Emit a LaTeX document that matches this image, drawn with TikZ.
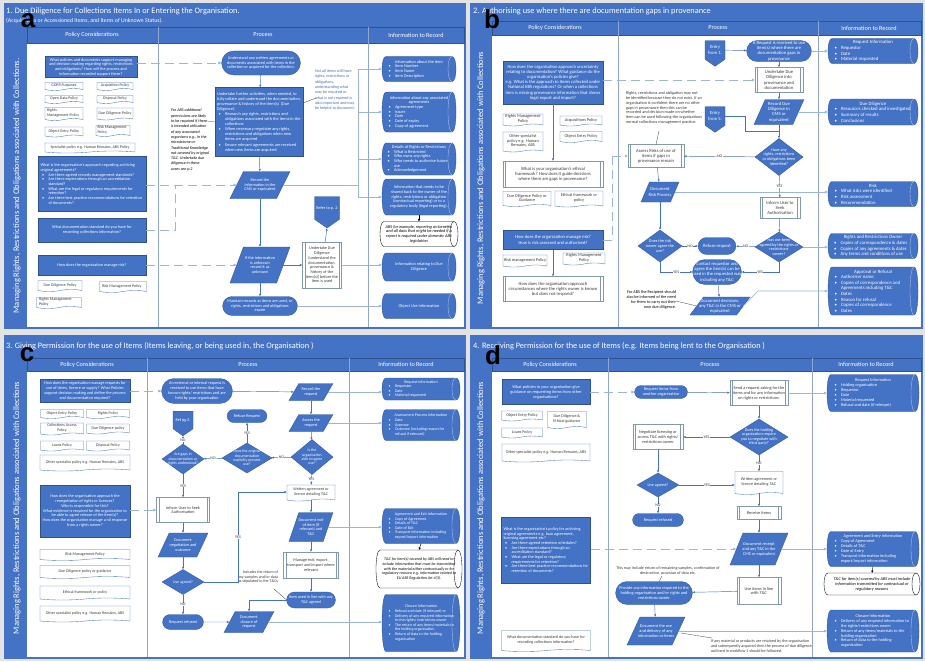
\documentclass[tikz,border=0pt]{standalone}
\usepackage{fontspec}
\setmainfont{Carlito}
\newfontfamily\arialf{Liberation Sans}
\usetikzlibrary{shapes.geometric,shapes.misc,shapes.symbols,arrows.meta}
\definecolor{blueM}{HTML}{4472C4}
\definecolor{blueD}{HTML}{2F528F}
\definecolor{blueL}{HTML}{9DB4DF}
\definecolor{blueLL}{HTML}{B4C7E7}
\definecolor{divc}{HTML}{8FA5D2}
\definecolor{pagebg}{HTML}{E3E3E3}
\definecolor{txtD}{HTML}{3A3A3A}
\definecolor{grayB}{HTML}{8497B0}
\definecolor{noteB}{HTML}{4A6FB5}
\newcommand\txc[2]{\hbox to 0pt{\hss\vbox to 0pt{\vss\hbox{\parbox{#1pt}{\centering #2}}\vss}\hss}}
\newcommand\txl[2]{\hbox to 0pt{\hss\vbox to 0pt{\vss\hbox{\parbox{#1pt}{\raggedright #2}}\vss}\hss}}
\newcommand\txr[2]{\hbox to 0pt{\hss\vbox to 0pt{\vss\hbox{\parbox{#1pt}{\raggedleft #2}}\vss}\hss}}
\newcommand\bpt{\par\hangindent=8pt\hangafter=1\noindent\hbox to 8pt{\hspace{1.5pt}\textbullet\hfil}\ignorespaces}
\newcommand\cyl[9]{%
 \path[fill=#1, draw=#2, line width=0.35pt] ({#5-#7/2+4},{#6-#8/2}) -- ({#5+#7/2-4},{#6-#8/2}) .. controls ({#5+#7/2+1.333},{#6-#8/2}) and ({#5+#7/2+1.333},{#6+#8/2}) .. ({#5+#7/2-4},{#6+#8/2}) -- ({#5-#7/2+4},{#6+#8/2}) .. controls ({#5-#7/2-1.333},{#6+#8/2}) and ({#5-#7/2-1.333},{#6-#8/2}) .. cycle;
 \draw[#3, line width=0.35pt] ({#5+#7/2-4},{#6-#8/2}) .. controls ({#5+#7/2-9.333},{#6-#8/2}) and ({#5+#7/2-9.333},{#6+#8/2}) .. ({#5+#7/2-4},{#6+#8/2});
 \node[kbase, kinf, minimum width=#7pt, minimum height=#8pt] (#4) at (#5,#6) {#9};}
\newcommand\infon[6]{\cyl{blueM}{blueD}{blueLL}{#1}{#2}{#3}{#4}{#5}{\color{white}#6}}
\newcommand\notecyl[6]{\cyl{white}{black}{black}{#1}{#2}{#3}{#4}{#5}{\color{black}\itshape #6}}
\tikzset{
 kbase/.style={inner sep=0.6pt, outer sep=0pt, font=\fontsize{4.2}{4.8}\selectfont},
 kinf/.style={},
 kpq/.style={kbase, rectangle, draw=blueD, fill=blueM, text=white, line width=0.3pt},
 kdoc/.style={kbase, tape, tape bend top=none, tape bend height=2pt, draw=blueM, fill=white, text=txtD, line width=0.35pt},
 kterm/.style={kbase, rounded rectangle, draw=blueD, fill=blueM, text=white, line width=0.3pt},
 kdata/.style={kbase, trapezium, trapezium left angle=68, trapezium right angle=112, trapezium stretches=true, draw=blueD, fill=blueM, text=white, line width=0.3pt},
 kdec/.style={kbase, diamond, draw=blueD, fill=blueM, text=white, line width=0.3pt},
 kpre/.style={kbase, rectangle, draw=grayB, fill=white, text=txtD, line width=0.35pt,
   path picture={\draw[grayB, line width=0.35pt] ([xshift=2.5pt]path picture bounding box.north west) -- ([xshift=2.5pt]path picture bounding box.south west) ([xshift=-2.5pt]path picture bounding box.north east) -- ([xshift=-2.5pt]path picture bounding box.south east);}},
 koff/.style={kbase, signal, signal to=south, signal pointer angle=110, draw=blueD, fill=blueM, text=white, line width=0.3pt},
 sz/.style 2 args={minimum width=#1pt, minimum height=#2pt},
 kar/.style={draw=blueM, line width=0.45pt, -{Latex[length=2.6pt,width=2.2pt]}},
 kir/.style={draw=blueL, line width=0.6pt, -{Latex[length=3.2pt,width=3.2pt]}},
 kln/.style={draw=blueL, line width=0.6pt},
 kdsh/.style={draw=blueL, line width=0.6pt, dash pattern=on 9pt off 5pt},
 kdsha/.style={kdsh, -{Latex[length=3.2pt,width=3.2pt]}},
 klbl/.style={inner sep=0.4pt, fill=white, text=txtD, font=\fontsize{4}{4.4}\selectfont},
 knote/.style={kbase, text=txtD},
 kcall/.style={draw=txtD, line width=0.3pt},
 kblk/.style={draw=black, line width=0.45pt, -{Latex[length=2.4pt,width=2.4pt]}},
 ktitle/.style={anchor=west, text=white, inner sep=0pt, font=\fontsize{8.3}{9}\selectfont},
 khead/.style={text=white, inner sep=0pt, font=\fontsize{6.2}{7}\selectfont},
 kband/.style={rotate=90, text=white, inner sep=0pt, font=\fontsize{8.5}{9}\selectfont},
 kletter/.style={text=black, inner sep=0pt, font=\arialf\bfseries\fontsize{26}{26}\selectfont},
}
\begin{document}
\begin{tikzpicture}[x=1pt,y=-1pt]
\fill[pagebg] (0,0) rectangle (925,661);
\useasboundingbox (0,0) rectangle (925,661);

% ================= PANEL FRAMES =================
\fill[blueM] (4,3) rectangle (466,329);
\fill[white] (27,43) rectangle (464,327);
\draw[blueD, line width=0.4pt] (27,27) rectangle (464,43);
\draw[divc, line width=0.6pt] (158,27) -- (158,327) (368,27) -- (368,327);
\node[ktitle] at (6,11) {1. Due Diligence for Collections Items In or Entering the Organisation.};
\node[ktitle, font=\fontsize{5.8}{6}\selectfont] at (6,21) {(Acquisitions or Accessioned Items, and Items of Unknown Status).};
\node[khead] at (92,35) {Policy Considerations};
\node[khead] at (263,35) {Process};
\node[khead] at (416,35) {Information to Record};
\node[kband] at (17,186) {Managing Rights, Restrictions and Obligations associated with Collections.};

\fill[blueM] (470,3) rectangle (923,329);
\fill[white] (492,35) rectangle (921,327);
\draw[blueD, line width=0.4pt] (492,21) rectangle (921,35);
\draw[divc, line width=0.6pt] (618,21) -- (618,327) (818,21) -- (818,327);
\node[ktitle] at (473,11) {2. Authorising use where there are documentation gaps in provenance};
\node[khead] at (555,28) {Policy Considerations};
\node[khead] at (718,28) {Process};
\node[khead] at (869,28) {Information to Record};
\node[kband] at (481,178) {Managing Rights, Restrictions and Obligations associated with Collections};

\fill[blueM] (4,335) rectangle (466,659);
\fill[white] (27,371) rectangle (464,657);
\draw[blueD, line width=0.4pt] (27,358) rectangle (464,371);
\draw[divc, line width=0.6pt] (147,358) -- (147,657) (349,358) -- (349,657);
\node[ktitle] at (6,346) {3. Giving Permission for the use of Items (Items leaving, or being used in, the Organisation )};
\node[khead] at (87,364.5) {Policy Considerations};
\node[khead] at (248,364.5) {Process};
\node[khead] at (406,364.5) {Information to Record};
\node[kband] at (17,508) {Managing Rights, Restrictions and Obligations associated with Collections};

\fill[blueM] (470,335) rectangle (923,659);
\fill[white] (492,371) rectangle (921,657);
\draw[blueD, line width=0.4pt] (492,358) rectangle (921,371);
\draw[divc, line width=0.6pt] (608,358) -- (608,657) (812,358) -- (812,657);
\node[ktitle] at (473,346) {4. Receiving Permission for the use of Items (e.g. Items being lent to the Organisation )};
\node[khead] at (550,364.5) {Policy Considerations};
\node[khead] at (710,364.5) {Process};
\node[khead] at (866,364.5) {Information to Record};
\node[kband] at (481,508) {Managing Rights, Restrictions and Obligations associated with Collections};

% ================= PANEL A =================
\begin{scope}[kbase/.style={inner sep=0.6pt, outer sep=0pt, font=\fontsize{4.2}{4.7}\selectfont},
  kdoc/.append style={font=\fontsize{4.0}{4.4}\selectfont},
  kinf/.style={font=\fontsize{4.3}{4.7}\selectfont}]
\node[kpq, sz={92}{21}] (a1) at (91,67) {\txc{88}{What policies and documents support managing and decision making regarding rights, restrictions and obligations? How will the process and information recorded support these?}};
\node[kdoc, sz={38}{8}] (aD1) at (64,85.5) {\txc{36}{GDPR Purposes}};
\node[kdoc, sz={36}{8}] (aD2) at (115,85.5) {\txc{34}{Acquisition Policy}};
\node[kdoc, sz={38}{8}] (aD3) at (64,98.5) {\txc{36}{Open Data Policy}};
\node[kdoc, sz={36}{8}] (aD4) at (115,98.5) {\txc{34}{Disposal Policy}};
\node[kdoc, sz={38}{13}] (aD5) at (64,113) {\txl{34}{Rights\par Management Policy}};
\node[kdoc, sz={36}{12}] (aD6) at (115,113) {\txc{34}{Due Diligence Policy}};
\node[kdoc, sz={38}{10}] (aD7) at (64,131) {\txc{36}{Object Entry Policy}};
\node[kdoc, sz={34}{11}] (aD8) at (113,130) {\txl{31}{Risk Management Policy}};
\node[kdoc, sz={90}{10}] (aD9) at (90,147) {\txc{86}{Specialist policy e.g. Human Remains, ABS Policy}};
\node[kpq, sz={108}{55}] (a2) at (92,184) {\txl{103}{What is the organisation's approach regarding archiving original agreements?\bpt Are there agreed records management standards?\bpt Are there expectations through an accreditation standard?\bpt What are the legal or regulatory requirements for retention?\bpt Are there best practice recommendations for retention of documents?}};
\node[kpq, sz={108}{24}] (a3) at (92,230) {\txc{84}{What documentation standard do you have for recording collections information?}};
\node[kpq, sz={108}{20}] (a4) at (92,265) {\txc{90}{How does the organisation manage risk?}};
\node[kdoc, sz={44}{11}] (aD10) at (60,285) {\txc{40}{Due Diligence Policy}};
\node[kdoc, sz={47}{11}] (aD11) at (123,286) {\txl{42}{Risk Management Policy}};
\node[kdoc, sz={45}{11}] (aD12) at (59,302) {\txl{40}{Rights Management Policy}};

\node[kterm, sz={80}{24}] (aP1) at (261,63) {\txc{72}{Understand any written agreements or documents associated with items in the collection or acquired for the collection.}};
\node[kpq, sz={88}{69}, font=\fontsize{4.3}{5.1}\selectfont] (aP2) at (259,122) {\txl{84}{Undertake further activities, when needed, to fully collate and understand the documentation, provenance \& history of the item(s)\ \ (Due Diligence):\bpt Research any rights, restrictions and obligations associated with the items in the collections\bpt When necessary negotiate any rights, restrictions and obligations when new items are acquired\bpt Ensure relevant agreements are received when new items are acquired}};
\node[kdata, sz={60}{27}] (aP3) at (260,185) {\txc{32}{Record the information in the CMS or equivalent}};
\node[kdata, sz={60}{36}] (aP4) at (260,265) {\txc{30}{If the information is unknown record it as unknown}};
\node[kpre, sz={39}{46}] (aP5) at (322,265) {\txc{34}{Undertake Due Diligence (understand the documentation, provenance \& history of the item(s)) before the item is used}};
\node[koff, sz={25}{23}] (aP6) at (327,208) {\txc{22}{Refer to p. 2}};
\node[kterm, sz={76}{19}] (aP7) at (260,306) {\txc{68}{Maintain records as items are used, or rights, restrictions and obligations expire}};
\node[knote, text=black, font=\fontsize{4.1}{5.3}\selectfont\itshape] (aN1) at (190,140) {\txl{38}{For ABS additional permissions are likely to be required if there is intended utilisation of any associated organisms e.g., in the microbiome or Traditional Knowledge not covered by original T\&C. Undertake due diligence in these cases see p.2}};
\node[knote, text=noteB, font=\fontsize{4.1}{5.3}\selectfont] (aN2) at (335,90) {\txl{40}{Not all items will have rights, restrictions or obligations, understanding what may be required or what is not required is also important and may be helpful to document.}};
\draw[kcall] (207,121) -- (aP2.west);
\draw[kcall] (316,98) -- (303,103);

\draw[kar] (aP1) -- (aP2);
\draw[kar] (aP2) -- (aP3);
\draw[kar] (aP3) -- (aP4);
\draw[kar] (aP4) -- (aP7);
\draw[kar] (aP4) -- (aP5);
\draw[kar] (aP5) -- (aP6.south);

\draw[kdsha] (a1.east |- aP1.west) -- (aP1.west);
\draw[kdsha] (a2.east |- aP3.west) -- (aP3.west);
\draw[kdsh] (a3.east) -- (175,230) -- (175,185);
\draw[kdsha] (a4.east) -- (aP4.west);

\infon{aI1}{419}{69}{74}{25}{\txl{64}{{\centering Information about the item\par}\bpt Item Number\bpt Item Name\bpt Item Description}}
\infon{aI2}{419}{112}{74}{40}{\txl{64}{{\centering Information about any associated agreements\par}\bpt Agreement type\bpt Issuer\bpt Date\bpt Date of expiry\bpt Copy of agreement}}
\infon{aI3}{419}{159}{74}{32}{\txl{66}{{\centering Details of Rights or Restrictions\par}\bpt What is Restricted\bpt Who owns any rights\bpt Who needs to authorise future use\bpt Acknowledgement}}
\infon{aI4}{419}{197}{74}{36}{\txc{62}{Information that needs to be shared back to the owner of the rights, restrictions or obligation (contractual reporting) or to a regulatory body (legal reporting).}}
\notecyl{aI5}{419}{234}{78}{25}{\txc{68}{ABS for example, reporting on benefits and all data that might be needed if a report is required under domestic ABS legislation}}
\infon{aI6}{419}{267}{74}{28}{\txc{60}{Information relating to Due Diligence}}
\infon{aI7}{419}{306}{74}{25}{\txc{60}{Object Use Information}}
\coordinate (aBr) at (358,0);
\draw[kln] (aP3.east) -- (aP3.east -| aBr);
\draw[kln] (aI1.west -| aBr) -- (aI4.west -| aBr);
\draw[kir] (aI1.west -| aBr) -- (aI1.west);
\draw[kir] (aI2.west -| aBr) -- (aI2.west);
\draw[kir] (aI3.west -| aBr) -- (aI3.west);
\draw[kir] (aI4.west -| aBr) -- (aI4.west);
\draw[kir] (aP5.east) -- (aP5.east -| aI6.west);
\draw[kir] (aP7.east) -- (aP7.east -| aI7.west);
\draw[kblk] (aI4.south) -- (aI5.north);
\end{scope}

% ================= PANEL B =================
\begin{scope}[kbase/.style={inner sep=0.6pt, outer sep=0pt, font=\fontsize{4.6}{5.2}\selectfont},
  kdoc/.append style={font=\fontsize{4.3}{4.7}\selectfont},
  kdec/.append style={font=\fontsize{4.2}{4.7}\selectfont},
  kinf/.style={font=\fontsize{4.8}{5.6}\selectfont}]
\node[kpq, sz={100}{43}] (bQ1) at (553,82.5) {\txc{96}{How does the organisation approach uncertainty relating to documentation? What guidance do the organisation's policies give?\par e.g. What is the approach to items collected under National ABS regulations? Or when a collections item is missing provenance information that shows legal export and import?}};
\node[kdoc, sz={40}{12}] (bD1) at (523,119) {\txc{38}{Rights Management Policy}};
\node[kdoc, sz={42}{10}] (bD2) at (581,120) {\txc{40}{Acquisitions Policy}};
\node[kdoc, sz={40}{20}] (bD3) at (523,141) {\txc{36}{Other specialist policy e.g. Human Remains, ABS}};
\node[kdoc, sz={42}{11}] (bD4) at (581,136) {\txc{40}{Object Entry Policy}};
\node[kpre, sz={100}{26}] (bQ2) at (553,174) {\txc{82}{What is your organisation's ethical framework? How does it guide decisions where there are gaps in provenance?}};
\node[kdoc, sz={48}{15}] (bD5) at (527,198) {\txc{46}{Due Diligence Policy or Guidance}};
\node[kdoc, sz={48}{16}] (bD6) at (579,198) {\txc{42}{Ethical framework or policy}};
\node[kpq, sz={100}{19}] (bQ3) at (553,240) {\txc{90}{How does the organisation manage risk?\par How is risk assessed and authorised?}};
\node[kdoc, sz={44}{12}] (bD7) at (525,260) {\txc{42}{Risk management Policy}};
\node[kdoc, sz={42}{12}] (bD8) at (584,258) {\txc{40}{Rights Management Policy}};
\node[kpre, sz={100}{25}] (bQ4) at (553,289) {\txc{90}{How does the organisation approach circumstances where the rights owner is known but does not respond?}};
\draw[kar] (bQ1) -- (bQ2);
\draw[kar] (bQ3) -- (bQ4);
\draw[kdsha] (bQ1.east |- 0,80) -- (755,80);
\draw[kdsh] (bQ3.east) -- (612,240) -- (612,156);
\draw[kdsha] (612,156) -- (628,156);

\node[koff, sz={20}{19}] (bP1) at (715,50) {\txc{19}{Entry from 1.}};
\node[kterm, sz={66}{21}] (bP2) at (779,51) {\txc{58}{A Request is received to use item(s) where there are documentation gaps in provenance}};
\node[kpre, sz={48}{25}] (bP3) at (779,80) {\txc{42}{Undertake Due Diligence into provenance and documentation}};
\node[kdata, sz={50}{25}] (bP4) at (779,112) {\txc{30}{Record Due Diligence in CMS or equivalent}};
\node[koff, sz={20}{19}] (bP5) at (715,116) {\txc{19}{Entry from 5.}};
\node[kpre, sz={56}{23}] (bP6) at (656,156) {\txc{50}{Assess Risks of use of items if gaps in provenance remain}};
\node[kdec, sz={48}{37}] (bP7) at (779,157) {\txc{44}{Have any\par rights, restrictions\par or obligations been\par identified?}};
\node[kdata, sz={38}{20}] (bP8) at (660,192) {\txc{26}{Document Risk Process}};
\node[kpre, sz={40}{21}] (bP9) at (780,208) {\txc{34}{Inform User to Seek Authorisation}};
\node[kdec, sz={48}{30}] (bP10) at (779,247) {\txc{44}{Has use been\par agreed by the rights or\par restrictions\par owner?}};
\node[kterm, sz={39}{17}] (bP11) at (717,246) {\txc{34}{Refuse request}};
\node[kdec, sz={44}{32}] (bP12) at (660,246) {\txc{36}{Does the risk\par owner agree the\par use?}};
\node[kterm, sz={50}{25}] (bP13) at (717,272) {\txc{50}{Contact requestor and agree the item(s) can be used in the requested way including any T\&C}};
\node[kdata, sz={60}{18}] (bP14) at (720,306) {\txc{46}{Document decisions, any T\&C in the CMS or equivalent}};
\node[knote, font=\fontsize{4.2}{4.8}\selectfont] (bN1) at (664,108) {\txl{76}{Rights, restrictions and obligation may not be identified because they do not exist. If an organisation is confident there are no other gaps in provenance then this can be recorded and decision made on whether item can be used following the organisations normal collections management practice.}};
\node[knote, text=black, font=\fontsize{4.2}{5.1}\selectfont] (bN2) at (651,300) {\txr{50}{For ABS the Recipient should also be informed of the need for them to carry out their own due diligence.}};
\draw[kcall] (659,131) -- (bP6.north);
\draw[kcall] (676,301) -- (bP14.west);

\draw[kar] (bP1) -- (bP2);
\draw[kar] (bP2) -- (bP3);
\draw[kar] (bP3) -- (bP4);
\draw[kar] (bP4) -- (bP7);
\draw[blueM, line width=0.45pt] (bP5.east) -- (745,116) -- (745,131) -- (779,131);
\draw[kar] (bP7) -- node[klbl] {NO} (bP6);
\draw[kar] (bP6) -- (bP8);
\draw[kar] (bP8) -- (bP12);
\draw[kar] (bP7) -- node[klbl] {YES} (bP9);
\draw[kar] (bP9) -- (bP10);
\draw[kar] (bP10) -- node[klbl] {NO} (bP11);
\draw[kar] (bP12) -- node[klbl] {NO} (bP11);
\draw[kar] (bP12.south) |- node[klbl, pos=0.75] {YES} (bP13.west);
\draw[kar] (bP10.south) |- node[klbl, pos=0.75] {YES} (bP13.east);
\draw[kar] (bP13) -- (bP14);

\infon{bI1}{873}{51}{90}{25}{\txl{80}{{\centering Request Information\par}\bpt Requestor\bpt Date\bpt Material requested}}
\infon{bI2}{873}{112}{90}{26}{\txl{80}{{\centering Due Diligence\par}\bpt Resources checked and investigated\bpt Summary of results\bpt Conclusions}}
\infon{bI3}{873}{194}{90}{25}{\txl{80}{{\centering Risk\par}\bpt What risks were identified\bpt Risk assessment\bpt Recommendation}}
\infon{bI4}{873}{246}{90}{25}{\txl{81}{{\centering Rights and Restrictions Owner\par}\bpt Copies of correspondence \& dates\bpt Copies of any agreements \& dates\bpt Any terms and conditions of use}}
\infon{bI5}{873}{291}{90}{48}{\txl{80}{{\centering Approval or Refusal\par}\bpt Authoriser name\bpt Copies of correspondence and Agreements including T\&C\bpt Dates\bpt Reason for refusal\bpt Copies of correspondence\bpt Dates}}
\draw[kir] (bP2.east) -- (bP2.east -| bI1.west);
\draw[kir] (bP4.east) -- (bP4.east -| bI2.west);
\draw[kir] (bP8.east) -- (bP8.east -| bI3.west);
\draw[kir] (bP10.east) -- (bP10.east -| bI4.west);
\draw[kir] (bP14.east) -- (758,291) -- (bI5.west);
\end{scope}

% ================= PANEL C =================
\begin{scope}[kbase/.style={inner sep=0.6pt, outer sep=0pt, font=\fontsize{4.2}{4.8}\selectfont},
  kdoc/.append style={font=\fontsize{4.0}{4.5}\selectfont},
  kdec/.append style={font=\fontsize{3.9}{4.4}\selectfont},
  kinf/.style={font=\fontsize{4.0}{4.6}\selectfont}]
\node[kpq, sz={90}{23}] (cQ1) at (85,391) {\txc{86}{How does the organisation manage requests for use of items, licence or supply? What Policies support decision making and define the process and documentation required?}};
\node[kdoc, sz={43}{9}] (cD1) at (62,413) {\txc{40}{Object Entry Policy}};
\node[kdoc, sz={43}{9}] (cD2) at (108,413) {\txc{40}{Rights Policy}};
\node[kdoc, sz={43}{12}] (cD3) at (62,428) {\txc{36}{Collections Access Policy}};
\node[kdoc, sz={43}{10}] (cD4) at (108,428) {\txc{42}{Due Diligence policy}};
\node[kdoc, sz={43}{10}] (cD5) at (62,445) {\txc{40}{Loans Policy}};
\node[kdoc, sz={43}{10}] (cD6) at (108,445) {\txc{40}{Disposal Policy}};
\node[kdoc, sz={90}{16}] (cD7) at (85,462) {\txc{84}{Other specialist policy e.g. Human Remains, ABS}};
\node[kpq, sz={90}{52}] (cQ2) at (85,511) {\txc{86}{How does the organisation approach the renegotiation of rights or licences?\par Who is responsible for this?\par What evidence is required for the organisation to be able to agree release of the item(s)?\par How does the organisation manage a nil response from a rights owner?}};
\node[kdoc, sz={90}{11}] (cD8) at (85,554) {\txc{80}{Risk Management Policy}};
\node[kdoc, sz={90}{13}] (cD9) at (85,571) {\txc{80}{Due Diligence policy or guidance}};
\node[kdoc, sz={90}{14}] (cD10) at (85,592) {\txc{80}{Ethical framework or policy}};
\node[kdoc, sz={90}{16}] (cD11) at (85,613) {\txc{84}{Other specialist policy e.g. Human Remains, ABS}};

\node[kterm, sz={72}{25}] (cP1) at (197,391) {\txc{64}{An external or internal request is received to use items that have known rights/ restrictions and are held by your organisation}};
\node[kdata, sz={44}{17}] (cP2) at (311,392) {\txc{26}{Record the request}};
\node[kdata, sz={44}{17}] (cP3) at (311,423) {\txc{26}{Assess the request}};
\node[kdec, sz={42}{35}] (cP4) at (312,457) {\txc{36}{Is the\par organisation\par able to agree\par use?}};
\node[kdec, sz={50}{30}] (cP5) at (247,458) {\txc{44}{Does the original\par documentation\par explicitly prevent\par use?}};
\node[kdec, sz={42}{30}] (cP6) at (183,459) {\txc{38}{Are gaps in\par documentation or\par rights understood?}};
\node[kterm, sz={41}{13}] (cP7) at (247,416) {\txc{38}{Refuse Request}};
\node[koff, sz={20}{18}] (cP8) at (183,420) {\txc{19}{Ref pg 2.}};
\node[kpre, sz={53}{25}] (cP9) at (183,510) {\txc{44}{Inform User to Seek Authorisation}};
\node[kdata, sz={50}{24}] (cP10) at (183,545) {\txc{30}{Document negotiation and outcome}};
\node[kdec, sz={42}{25}] (cP11) at (183,582) {\txc{28}{Use agreed?}};
\node[kterm, sz={42}{15}] (cP12) at (183,622) {\txc{38}{Request refused}};
\node[kdata, sz={50}{21}] (cP13) at (249,622) {\txc{30}{Document closure of request}};
\node[kdoc, sz={48}{16}] (cP14) at (311,492) {\txc{46}{Written agreement or licence detailing T\&C}};
\node[kdata, sz={44}{29}] (cP15) at (311,527) {\txc{28}{Document exit of item (if relevant) and T\&C}};
\node[kpre, sz={55}{26}] (cP16) at (311,565) {\txc{48}{Manage exit, export, transport and import where relevant}};
\node[kterm, sz={50}{16}] (cP17) at (311,600) {\txc{46}{Item used in line with any T\&C agreed}};
\node[knote, font=\fontsize{4.0}{4.6}\selectfont] (cN1) at (258,577) {\txr{40}{Includes the return of any samples and/or data as stipulated in the T\&Cs}};
\draw[kcall] (274,589) -- (cP17.west);

\draw[kar] (cP1) -- (cP2);
\draw[kar] (cP2) -- (cP3);
\draw[kar] (cP3) -- (cP4);
\draw[kar] (cP4) -- node[klbl] {NO} (cP5);
\draw[kar] (cP5) -- node[klbl] {NO} (cP6);
\draw[kar] (cP5) -- node[klbl] {YES} (cP7);
\draw[kar] (cP6) -- node[klbl] {NO} (cP8.south);
\draw[kar] (cP6) -- node[klbl] {YES} (cP9);
\draw[kar] (cP4) -- node[klbl] {YES} (cP14);
\draw[kar] (cP9) -- (cP10);
\draw[kar] (cP10) -- (cP11);
\draw[kar] (cP11) -- node[klbl] {NO} (cP12);
\draw[kar] (cP11.east) -- (238,582) -- node[klbl] {YES} (238,492) -- (cP14.west);
\draw[kar] (cP14) -- (cP15);
\draw[kar] (cP15) -- (cP16);
\draw[kar] (cP16) -- (cP17);
\draw[kar] (cP17.west) -| (cP13.north);
\draw[kar] (cP12) -- (cP13);
\draw[kdsha] (cQ1.east) -- (cP1.west);
\draw[kdsha] (cQ2.east |- cP9.west) -- (cP9.west);

\infon{cI1}{421}{389}{78}{22}{\txl{68}{{\centering Request Information\par}\bpt Requestor\bpt Date\bpt Material requested}}
\infon{cI2}{421}{425}{78}{31}{\txl{68}{{\centering Assessment Process Information\par}\bpt Date\bpt Assessor\bpt Outcome (including reason for refusal if relevant)}}
\infon{cI3}{421}{526}{78}{35}{\txl{68}{{\centering Agreement and Exit Information\par}\bpt Copy of Agreement\bpt Details of T\&C\bpt Date of Exit\bpt Transport information including export/import information}}
\notecyl{cI4}{419}{569}{86}{38}{\txc{76}{T\&C for item(s) covered by ABS will need to include information that must be transmitted with the material either contractually or for regulatory reasons e.g. information related to EU ABS Regulation Art 4(3).}}
\infon{cI5}{421}{623}{78}{57}{\txl{68}{{\centering Closure Information\par}\bpt Refusal and date (if relevant) or\bpt Delivery of any required information to the rights/ restrictions owner\bpt The return of any items/materials to the holding organisation\bpt Return of data to the holding organisation}}
\draw[kir] (cP2.east) -- (cP2.east -| cI1.west);
\draw[kir] (cP3.east) -- (cP3.east -| cI2.west);
\draw[kir] (cP15.east) -- (cP15.east -| cI3.west);
\draw[kir] (cP13.east) -- (cP13.east -| cI5.west);
\draw[kblk] (cI3.south) -- (cI4.north);
\end{scope}

% ================= PANEL D =================
\begin{scope}[kbase/.style={inner sep=0.6pt, outer sep=0pt, font=\fontsize{4.3}{4.9}\selectfont},
  kdoc/.append style={font=\fontsize{4.1}{4.6}\selectfont},
  kdec/.append style={font=\fontsize{4.1}{4.6}\selectfont},
  kinf/.style={font=\fontsize{4.3}{4.9}\selectfont}]
\node[kpq, sz={88}{25}] (dQ1) at (546,392) {\txc{80}{What policies in your organisation give guidance on requesting items from other organisations?}};
\node[kdoc, sz={41}{10}] (dD1) at (522,415) {\txc{40}{Object Entry Policy}};
\node[kdoc, sz={39}{17}] (dD2) at (567,419) {\txc{36}{Due Diligence \& Ethical guidance}};
\node[kdoc, sz={41}{10}] (dD3) at (522,432) {\txc{40}{Loans Policy}};
\node[kdoc, sz={88}{18}] (dD4) at (546,452) {\txc{82}{Other specialist policy e.g. Human Remains, ABS}};
\node[kpq, sz={89}{66}, font=\fontsize{4.2}{4.7}\selectfont] (dQ2) at (546,550) {\txl{85}{What is the organisation's policy for archiving original agreements e.g. loan agreement, licensing agreement etc?\bpt Are there agreed retention schedules?\bpt Are there expectations through an accreditation standard?\bpt What are the legal or regulatory requirements for retention?\bpt Are there best practice recommendations for retention of documents?}};
\node[kdoc, sz={89}{21}] (dD5) at (546,640) {\txc{82}{What documentation standard do you have for recording collections information?}};

\node[kterm, sz={54}{13}] (dP1) at (661,392) {\txc{46}{Request items from another organisation}};
\node[kpre, sz={58}{25}] (dP2) at (759,393) {\txc{52}{Send a request asking for the items and for any information on rights or restrictions.}};
\node[kdec, sz={58}{36}] (dP3) at (759,437) {\txc{52}{Does the holding\par organisation require\par you to negotiate with\par third party?}};
\node[kpre, sz={50}{25}] (dP4) at (658,437) {\txc{44}{Negotiate licensing or access T\&C with rights/ restrictions owner}};
\node[kdec, sz={42}{24}] (dP5) at (658,485) {\txc{28}{Use agreed?}};
\node[kterm, sz={52}{13}] (dP6) at (658,520) {\txc{46}{Request refused}};
\node[kdoc, sz={48}{23}] (dP7) at (759,482) {\txc{44}{Written agreement or licence detailing T\&C}};
\node[kpre, sz={44}{13}] (dP8) at (759,513) {\txc{38}{Receive Items}};
\node[kdata, sz={58}{32}] (dP9) at (759,549) {\txc{34}{Document receipt and any T\&C in the CMS or equivalent}};
\node[kpre, sz={44}{27}] (dP10) at (759,591) {\txc{34}{Use items in line with T\&C}};
\node[kterm, sz={78}{23}] (dP11) at (654,593) {\txc{72}{Provide any information required to the holding organisation and/or rights and restrictions owner}};
\node[kdata, sz={58}{28}] (dP12) at (656,631) {\txc{36}{Document the use and delivery of any information or items}};
\node[knote, font=\fontsize{4.1}{4.6}\selectfont] (dN1) at (668,571) {\txc{118}{This may include return of remaining samples, confirmation of destruction, provision of data etc.}};
\node[knote, font=\fontsize{4.1}{5.3}\selectfont] (dN2) at (763,646) {\txl{104}{If any material or products are retained by the organisation and subsequently acquired then the process of due diligence outlined in workflow 1 should be followed.}};
\draw[kcall] (662,576) -- (659,581.5);
\draw[kcall] (681,633) -- (712,638);

\draw[kar] (dP1) -- (dP2);
\draw[kar] (dP2) -- (dP3);
\draw[kar] (dP3) -- node[klbl] {YES} (dP4);
\draw[kar] (dP3) -- node[klbl] {NO} (dP7);
\draw[kar] (dP4) -- (dP5);
\draw[kar] (dP5) -- node[klbl] {YES} (dP7.west |- dP5.east);
\draw[kar] (dP5) -- node[klbl] {NO} (dP6);
\draw[kar] (dP7.south) -- (dP8);
\draw[kar] (dP8) -- (dP9);
\draw[kar] (dP9) -- (dP10);
\draw[kar] (dP10) -- (dP11);
\draw[kar] (dP11) -- (dP12);
\draw[kdsha] (dQ1.east) -- (dP1.west);
\draw[kdsha] (dQ2.east |- dP9.west) -- (dP9.west);

\infon{dI1}{873}{393}{92}{37}{\txl{80}{{\centering Request Information\par}\bpt Holding organisation\bpt Requestor\bpt Date\bpt Material requested\bpt Refusal and date (if relevant)}}
\infon{dI2}{873}{549}{92}{35}{\txl{80}{{\centering Agreement and Entry Information\par}\bpt Copy of Agreement\bpt Details of T\&C\bpt Date of Entry\bpt Transport information including export/import information}}
\notecyl{dI3}{872}{584}{96}{22}{\txc{88}{T\&C for item(s) covered by ABS must include information transmitted for contractual or regulatory reasons}}
\infon{dI4}{873}{631}{92}{42}{\txl{80}{{\centering Closure Information\par}\bpt Delivery of any required information to the rights/restrictions owner\bpt Return of any items/materials to the holding organisation\bpt Return of data to the holding organisation}}
\draw[kir] (dP2.east) -- (dP2.east -| dI1.west);
\draw[kir] (dP9.east) -- (dP9.east -| dI2.west);
\draw[kir] (dP12.east) -- (dP12.east -| dI4.west);
\draw[kblk] (dI2.south) -- (dI3.north);
\end{scope}

% ================= LETTERS =================
\node[kletter] at (28,21) {a};
\node[kletter] at (492,19) {b};
\node[kletter] at (27,355) {c};
\node[kletter] at (493,355) {d};
\end{tikzpicture}
\end{document}
